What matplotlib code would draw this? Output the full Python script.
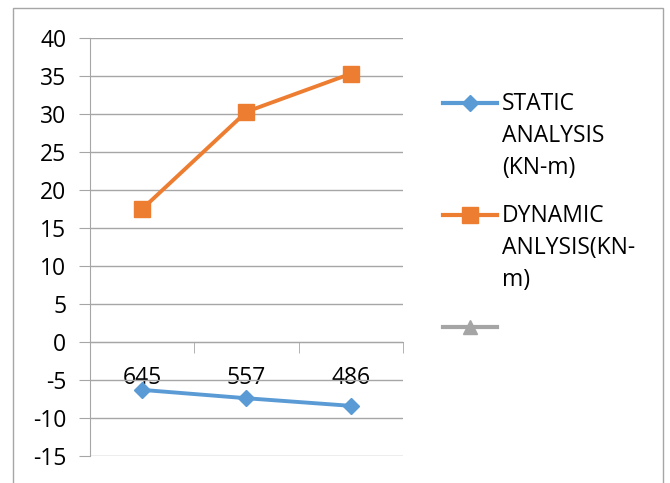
import matplotlib
matplotlib.use("Agg")
import matplotlib.pyplot as plt
from matplotlib.lines import Line2D
from matplotlib.patches import Rectangle

categories = ["645", "557", "486"]
static_vals = [-6.3, -7.4, -8.4]
dynamic_vals = [17.5, 30.3, 35.3]
series_labels = ["STATIC\nANALYSIS\n(KN-m)", "DYNAMIC\nANLYSIS(KN-\nm)", ""]
yticks = [-15, -10, -5, 0, 5, 10, 15, 20, 25, 30, 35, 40]

plt.rcParams['font.family'] = ['Open Sans', 'DejaVu Sans']

W, H = 670, 483
fig = plt.figure(figsize=(W/100, H/100), dpi=100)
fig.patches.append(Rectangle((13/W, -0.1), (663-13)/W, 1.1 - 8/H, transform=fig.transFigure,
                             fill=False, edgecolor="#a6a6a6", lw=1.0))

left, right, top, bottom = 90, 403, 38, 456
ax = fig.add_axes([left/W, 1-bottom/H, (right-left)/W, (bottom-top)/H])

x = list(range(len(categories)))
blue = "#5b9bd5"
orange = "#ed7d31"
grey = "#a5a5a5"
styles = [(blue, "D", 8), (orange, "s", 11), (grey, "^", 10)]

ax.plot(x, static_vals, color=blue, lw=2.8, marker="D", ms=8, zorder=3)
ax.plot(x, dynamic_vals, color=orange, lw=2.8, marker="s", ms=11, zorder=3)

ax.set_xlim(-0.5, 2.5)
ax.set_ylim(-15, 40)
ax.set_yticks(yticks)
ax.set_yticklabels([str(v) for v in yticks], fontsize=16.5)
ax.yaxis.grid(True, color="#a6a6a6", lw=1.0)
ax.set_axisbelow(True)

for s in ["top", "right"]:
    ax.spines[s].set_visible(False)
ax.spines["left"].set_color("#a6a6a6")
ax.spines["bottom"].set_position(("data", 0))
ax.spines["bottom"].set_color("#a6a6a6")
ax.tick_params(axis="y", length=8, color="#a6a6a6", pad=9)

ax.set_xticks(x)
ax.set_xticklabels(categories, fontsize=16.5)
ax.tick_params(axis="x", which="major", length=0, pad=17)
ax.set_xticks([-0.5, 0.5, 1.5, 2.5], minor=True)
ax.tick_params(axis="x", which="minor", length=8, color="#a6a6a6", direction="out")

# manual legend (handle aligned with first text line, as in the reference)
entry_y = [103, 215, 327]
for (col, mk, ms), lab, yy in zip(styles, series_labels, entry_y):
    fy = 1 - yy / H
    fig.add_artist(Line2D([443/W, 497/W], [fy, fy], color=col, lw=3.0))
    fig.add_artist(Line2D([470/W], [fy], color=col, marker=mk, ms=ms, lw=0))
    if lab:
        fig.text(502/W, 1 - (yy - 11) / H, lab, fontsize=16.5, va="top", ha="left",
                 linespacing=1.45)

fig.savefig("out.png", dpi=100)
